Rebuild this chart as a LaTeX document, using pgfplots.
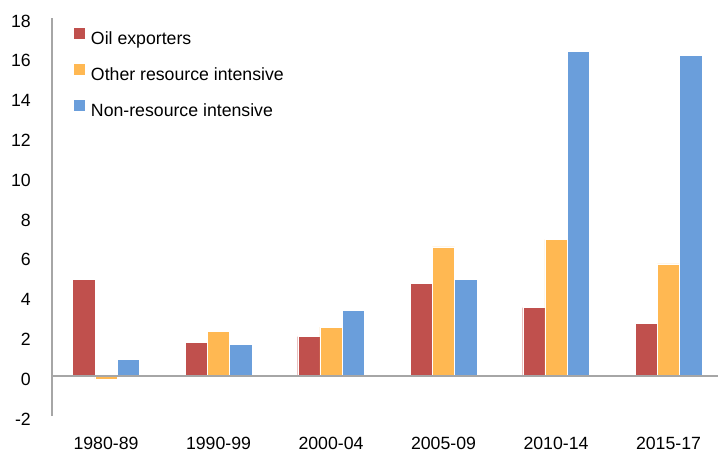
\documentclass[border=0pt]{standalone}
\usepackage{fontspec}
\setmainfont{Liberation Sans}
\usepackage{pgfplots}
\pgfplotsset{compat=1.18}
\definecolor{OilRed}{RGB}{192,80,77}
\definecolor{OthOrange}{RGB}{255,184,82}
\definecolor{NonBlue}{RGB}{106,158,219}
\definecolor{AxGray}{RGB}{166,166,166}
\newcommand{\lblfont}{\fontsize{17.7bp}{21bp}\selectfont}

\begin{document}
\begin{tikzpicture}
\useasboundingbox (-52bp,-36bp) rectangle (666bp,416bp);
\begin{axis}[
  width=666bp, height=398bp, scale only axis,
  xmin=-0.48, xmax=5.44, ymin=-2, ymax=18,
  ytick={-2,0,...,18},
  xtick={0,...,5},
  xticklabels={1980-89,1990-99,2000-04,2005-09,2010-14,2015-17},
  /pgf/number format/assume math mode=true,
  axis x line*=bottom, axis y line*=left,
  x axis line style={draw=none},
  y axis line style={AxGray, line width=1.8bp, -},
  major tick length=0pt, tick style={draw=none},
  tick label style={font=\lblfont, text=black},
  xticklabel style={anchor=north, inner sep=0pt, yshift=-20.5bp},
  yticklabel style={anchor=east, inner sep=0pt, xshift=-21bp, yshift=-3bp},
  ybar=0pt, bar width=22.2bp,
  every axis plot/.append style={draw=white, line width=0.4bp},
  legend style={draw=none, fill=none, font=\lblfont,
    at={(0.033,0.975)}, anchor=north west, inner sep=0pt, outer sep=0pt,
    row sep=16.5bp, nodes={inner sep=0pt, text height=12bp, text depth=3bp},
    /tikz/every odd column/.append style={column sep=6bp}},
  legend cell align=left,
  legend image code/.code={\path[#1,draw=none] (0bp,1bp) rectangle (11bp,12bp);},
]
\addplot[fill=OilRed] coordinates
  {(0,4.88) (1,1.69) (2,1.99) (3,4.68) (4,3.45) (5,2.66)};
\addlegendentry{Oil exporters}
\addplot[fill=OthOrange] coordinates
  {(0,-0.15) (1,2.26) (2,2.46) (3,6.50) (4,6.88) (5,5.64)};
\addlegendentry{Other resource intensive}
\addplot[fill=NonBlue] coordinates
  {(0,0.84) (1,1.59) (2,3.32) (3,4.86) (4,16.33) (5,16.13)};
\addlegendentry{Non-resource intensive}
\draw[AxGray, line width=1.5bp] (axis cs:-0.48,0) -- (axis cs:5.44,0);
\end{axis}
\end{tikzpicture}
\end{document}
